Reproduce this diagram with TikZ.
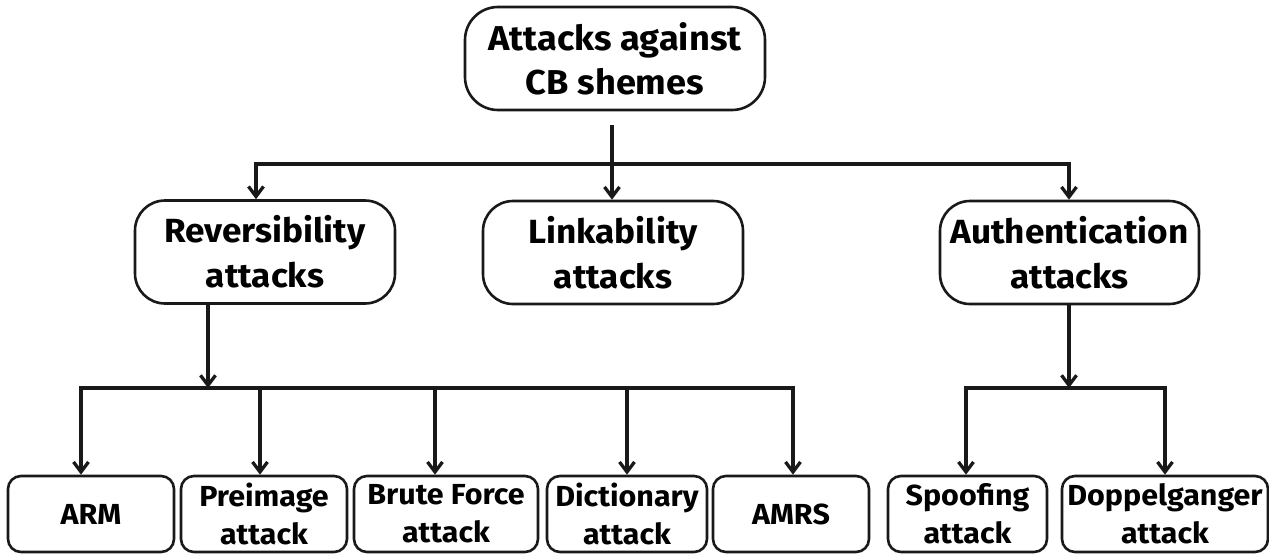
\documentclass[tikz,border=0pt]{standalone}
\usepackage{fontspec}
\setmainfont{Fira Sans}[FakeStretch=1.05]
\usetikzlibrary{arrows.meta}
\begin{document}
\begin{tikzpicture}[x=1pt,y=-1pt,
  box/.style={draw=black!90, line width=2.6pt, rounded corners=30pt, align=center,
    inner sep=0pt, minimum height=103pt, font=\bfseries\fontsize{33.5}{45}\selectfont},
  leaf/.style={draw=black!90, line width=2.6pt, rounded corners=13pt, align=center,
    inner sep=0pt, minimum height=76pt, font=\bfseries\fontsize{29}{38}\selectfont},
  wire/.style={draw=black!90, line width=3.3pt},
  arr/.style={wire, -{Straight Barb[length=10pt,width=15pt]}}]
\useasboundingbox (0,0) rectangle (1269,554);

% root and first level
\node[box, minimum width=300pt, rounded corners=33pt,
  font=\bfseries\fontsize{34.5}{44}\selectfont] (top) at (615,58.5) {Attacks against\\CB shemes};
\node[box, minimum width=260pt] (rev)  at (265,252)    {Reversibility\\attacks};
\node[box, minimum width=260pt] (link) at (613,252.5)  {Linkability\\attacks};
\node[box, minimum width=259pt] (auth) at (1069.5,252.5) {Authentication\\attacks};

% leaves
\node[leaf, minimum width=166pt] (arm)   at (91,514)    {ARM};
\node[leaf, minimum width=166pt] (pre)   at (264,514)   {Preimage\\attack};
\node[leaf, minimum width=184pt] (brute) at (446,514)   {Brute Force\\attack};
\node[leaf, minimum width=160pt] (dict)  at (627,514)   {Dictionary\\attack};
\node[leaf, minimum width=156pt] (amrs)  at (791,514)   {AMRS};
\node[leaf, minimum width=159pt] (spoof) at (967.5,514) {Spoofing\\attack};
\node[leaf, minimum width=206pt] (dopp)  at (1165,514)  {Doppelganger\\attack};

% junction points
\coordinate (t0) at (612,125);
\coordinate (bl) at (256,164);
\coordinate (br) at (1069,164);
\coordinate (r0) at (208,388);
\coordinate (x1) at (81,388);
\coordinate (x2) at (260,388);
\coordinate (x3) at (435,388);
\coordinate (x4) at (627,388);
\coordinate (x5) at (793,388);
\coordinate (a0) at (1069,388);
\coordinate (s1) at (966,388);
\coordinate (s2) at (1165,388);

% root to first level
\draw[arr] (t0) -- (t0 |- link.north);
\draw[arr] (t0 |- bl) -- (bl) -- (bl |- rev.north);
\draw[arr] (t0 |- br) -- (br) -- (br |- auth.north);

% reversibility branch
\draw[arr] (r0 |- rev.south) -- (r0);
\draw[arr] (r0) -- (x1) -- (x1 |- arm.north);
\draw[arr] (r0) -- (x5) -- (x5 |- amrs.north);
\draw[arr] (x2) -- (x2 |- pre.north);
\draw[arr] (x3) -- (x3 |- brute.north);
\draw[arr] (x4) -- (x4 |- dict.north);

% authentication branch
\draw[arr] (a0 |- auth.south) -- (a0);
\draw[arr] (a0) -- (s1) -- (s1 |- spoof.north);
\draw[arr] (a0) -- (s2) -- (s2 |- dopp.north);
\end{tikzpicture}
\end{document}
